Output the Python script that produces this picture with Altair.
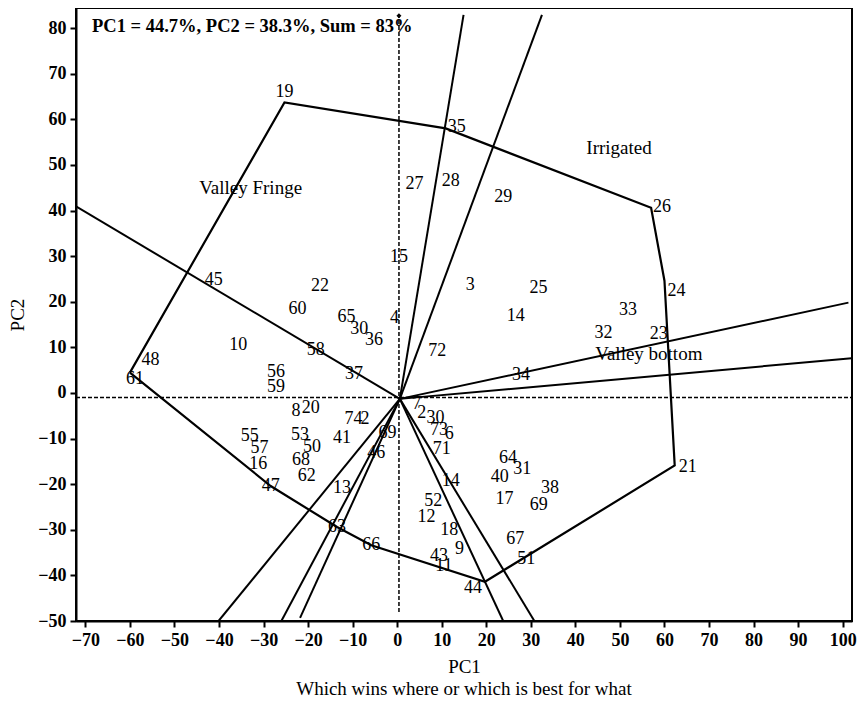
import altair as alt
import pandas as pd

FONT = "Liberation Serif"

# Genotype scores (PC1, PC2) for genotypes that are not polygon vertices
gen_labels = ["27", "28", "29", "15", "45", "22", "60", "65", "30", "36", "4", "10", "58", "48",
              "56", "37", "59", "8", "20", "74", "2", "3", "25", "14", "33", "32", "23", "72", "34",
              "55", "57", "16", "53", "50", "68", "62", "41", "69", "46", "13", "7", "2", "30", "73",
              "6", "71", "64", "31", "40", "38", "17", "69", "14", "52", "12", "18", "9", "67", "51",
              "43", "11"]
gen_pc1 = [3.9, 12.0, 23.8, 0.4, -41.2, -17.3, -22.4, -11.4, -8.5, -5.2, -0.6, -35.7, -18.3, -55.4,
           -27.2, -9.7, -27.2, -22.7, -19.4, -9.8, -7.2, 16.4, 31.7, 26.6, 51.8, 46.3, 58.7, 9.0, 27.8,
           -33.1, -30.9, -31.2, -21.8, -19.1, -21.6, -20.3, -12.4, -2.2, -4.7, -12.4, 4.4, 5.5, 8.6, 9.4,
           11.7, 10.0, 24.9, 28.1, 23.0, 34.3, 24.1, 31.8, 12.0, 8.1, 6.6, 11.7, 14.0, 26.5, 29.0,
           9.4, 10.5]
gen_pc2 = [45.8, 46.5, 43.0, 29.8, 24.7, 23.5, 18.4, 16.7, 14.1, 11.7, 16.4, 10.5, 9.4, 7.2,
           4.6, 4.2, 1.3, -3.9, -3.4, -5.8, -5.8, 23.7, 23.0, 16.9, 18.1, 13.2, 13.0, 9.1, 3.9,
           -9.4, -12.0, -15.6, -9.2, -11.8, -14.8, -18.2, -9.8, -8.7, -13.1, -20.9, -2.5, -4.5, -5.4, -8.2,
           -9.1, -12.3, -14.2, -16.6, -18.4, -20.9, -23.3, -24.6, -19.3, -23.7, -27.2, -30.1, -34.3, -32.0, -36.3,
           -35.7, -37.9]

# Polygon vertex genotypes (in drawing order)
vert_labels = ["61", "19", "35", "26", "24", "21", "44", "66", "63", "47"]
vert_pc1 = [-60.0, -25.3, 10.9, 57.0, 60.0, 62.3, 19.7, -5.8, -13.5, -28.4]
vert_pc2 = [4.45, 63.7, 58.0, 40.6, 24.6, -15.9, -41.4, -33.4, -29.4, -20.4]

# Ray origin and end points
ray_origin = (0.6, -1.3)
ray_end_pc1 = [-72.1, 14.9, 32.5, 101.3, 102.0, 30.8, 23.8, -21.8, -26.0, -40.1]
ray_end_pc2 = [40.9, 82.9, 82.9, 19.8, 7.6, -50.0, -50.0, -49.3, -50.0, -50.0]

# Environment group labels
env_labels = ["Valley Fringe", "Irrigated", "Valley bottom"]
env_pc1 = [-32.9, 49.8, 56.5]
env_pc2 = [44.9, 53.8, 8.5]

# Axis settings
x_domain = [-72.1, 102.1]
y_domain = [-50, 84.4]
x_ticks = list(range(-70, 101, 10))
y_ticks = list(range(-50, 81, 10))
info_text = "PC1 = 44.7%, PC2 = 38.3%, Sum = 83%"
subtitle = "Which wins where or which is best for what"

xs = alt.Scale(domain=x_domain, nice=False, zero=False)
ys = alt.Scale(domain=y_domain, nice=False, zero=False)
X = lambda f: alt.X(f, type="quantitative", scale=xs,
                    axis=alt.Axis(values=x_ticks, title="PC1", titlePadding=8))
Y = lambda f: alt.Y(f, type="quantitative", scale=ys,
                    axis=alt.Axis(values=y_ticks, title="PC2", titlePadding=10))

gen_df = pd.DataFrame({"label": gen_labels, "pc1": gen_pc1, "pc2": gen_pc2})
vert_df = pd.DataFrame({"label": vert_labels, "pc1": vert_pc1, "pc2": vert_pc2})

poly_df = pd.DataFrame({
    "pc1": vert_pc1 + [vert_pc1[0]],
    "pc2": vert_pc2 + [vert_pc2[0]],
    "order": list(range(len(vert_pc1) + 1)),
})

ray_rows = []
for i, (ex, ey) in enumerate(zip(ray_end_pc1, ray_end_pc2)):
    ray_rows.append({"ray": i, "order": 0, "pc1": ray_origin[0], "pc2": ray_origin[1]})
    ray_rows.append({"ray": i, "order": 1, "pc1": ex, "pc2": ey})
ray_df = pd.DataFrame(ray_rows)

env_df = pd.DataFrame({"label": env_labels, "pc1": env_pc1, "pc2": env_pc2})
info_df = pd.DataFrame({"label": [info_text], "pc1": [-68.5], "pc2": [80.5]})

vdash_df = pd.DataFrame({"pc1": [0.4], "pc2": [-48.0], "pc2b": [82.7]})
hdash_df = pd.DataFrame({"pc1": [x_domain[0]], "pc1b": [x_domain[1]], "pc2": [-1.0]})

base_text = dict(font=FONT, fontSize=18, color="black", baseline="middle")

hdash = alt.Chart(hdash_df).mark_rule(color="black", strokeWidth=1.5, strokeDash=[4, 2]).encode(
    x=X("pc1"), x2="pc1b", y=Y("pc2"))
vdash = alt.Chart(vdash_df).mark_rule(color="black", strokeWidth=1.5, strokeDash=[4, 2]).encode(
    x=X("pc1"), y=Y("pc2"), y2="pc2b")
tip = alt.Chart(vdash_df).mark_point(shape="diamond", filled=True, color="black", size=25, opacity=1).encode(
    x=X("pc1"), y=Y("pc2b"))

rays = alt.Chart(ray_df).mark_line(color="black", strokeWidth=2, clip=True).encode(
    x=X("pc1"), y=Y("pc2"), detail="ray:N", order="order:Q")

poly = alt.Chart(poly_df).mark_line(color="black", strokeWidth=2.2, clip=True).encode(
    x=X("pc1"), y=Y("pc2"), order="order:Q")

gen_text = alt.Chart(gen_df).mark_text(align="center", **base_text).encode(
    x=X("pc1"), y=Y("pc2"), text="label:N")


def vtext(labels, **kw):
    return alt.Chart(vert_df).transform_filter(
        alt.FieldOneOfPredicate(field="label", oneOf=labels)
    ).mark_text(**base_text, **kw).encode(x=X("pc1"), y=Y("pc2"), text="label:N")


vt_right = vtext(["35", "26"], align="left", dx=2, dy=-1)
vt_24 = vtext(["24"], align="left", dx=3, dy=10)
vt_21 = vtext(["21"], align="left", dx=4, dy=2)
vt_19 = vtext(["19"], align="center", dy=-10)
vt_44 = vtext(["44"], align="center", dx=-12, dy=6)
vt_61 = vtext(["61"], align="center", dx=5, dy=6)
vt_mid = vtext(["66", "63", "47"], align="center")

env_text = alt.Chart(env_df).mark_text(align="center", font=FONT, fontSize=19, color="black",
                                       baseline="middle").encode(
    x=X("pc1"), y=Y("pc2"), text="label:N")

info = alt.Chart(info_df).mark_text(align="left", font=FONT, fontSize=18.5, fontWeight="bold",
                                    color="black", baseline="middle").encode(
    x=X("pc1"), y=Y("pc2"), text="label:N")

chart = alt.layer(
    hdash, vdash, tip, rays, poly, gen_text, vt_right, vt_24, vt_21, vt_19, vt_44, vt_61, vt_mid,
    env_text, info
).properties(
    width=776, height=613,
    autosize=alt.AutoSizeParams(type="none"),
    padding={"left": 68, "top": 0, "right": 7, "bottom": 90},
    title=alt.TitleParams(subtitle, orient="bottom", anchor="middle", font=FONT, fontSize=19,
                          fontWeight="normal", color="black", offset=4),
).configure_view(
    stroke="black", strokeWidth=2
).configure_axis(
    grid=False, domainColor="black", domainWidth=2, tickColor="black", tickWidth=2, tickSize=6,
    labelFont=FONT, labelFontSize=18, labelFontWeight="bold", labelColor="black", labelPadding=4,
    titleFont=FONT, titleFontSize=19, titleFontWeight="normal", titleColor="black",
)

chart.save("out.html", embed_options={"renderer": "svg", "actions": False})
